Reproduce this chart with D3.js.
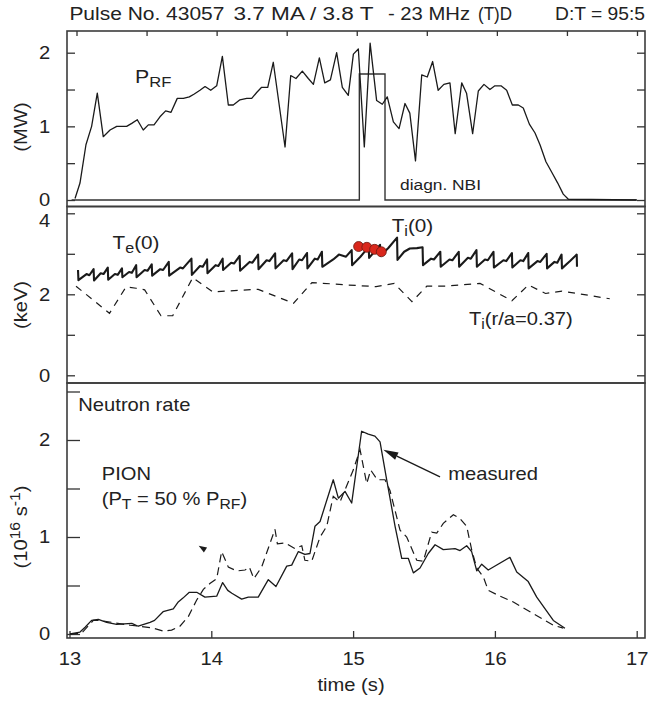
<!DOCTYPE html>
<html>
<head>
<meta charset="utf-8">
<script src="https://cdn.jsdelivr.net/npm/d3@7"></script>
<style>
body { margin: 0; background: #fff; }
text { font-family: "Liberation Sans", Arial, Helvetica, sans-serif; fill: #222; }
</style>
</head>
<body>
<script>
// ---- data (time in s) ----
// P_RF (MW)
let prfData = [[13.039,0.02],[13.074,0.23],[13.116,0.75],[13.156,1.0],[13.196,1.45],[13.238,0.86],[13.286,0.95],
  [13.333,1.0],[13.403,1.0],[13.439,1.04],[13.478,1.09],[13.52,0.95],[13.556,1.02],[13.596,1.02],[13.638,1.13],
  [13.678,1.21],[13.716,1.19],[13.76,1.38],[13.803,1.38],[13.845,1.40],[13.88,1.44],[13.92,1.49],[13.956,1.54],
  [13.996,1.49],[14.038,1.55],[14.078,1.95],[14.12,1.29],[14.155,1.29],[14.202,1.36],[14.25,1.38],[14.285,1.38],
  [14.32,1.46],[14.355,1.53],[14.398,1.53],[14.437,1.87],[14.52,0.72],[14.56,1.69],[14.597,1.65],[14.642,1.75],
  [14.684,1.65],[14.72,1.57],[14.762,1.93],[14.80,1.59],[14.84,1.63],[14.884,2.0],[14.924,1.53],[14.966,1.42],
  [15.002,1.98],[15.037,2.05],[15.079,0.72],[15.12,2.13],[15.166,1.35],[15.206,1.30],[15.241,1.40],[15.284,1.06],
  [15.324,0.97],[15.366,1.31],[15.40,1.18],[15.44,0.53],[15.484,1.70],[15.523,1.67],[15.561,1.88],[15.60,1.49],
  [15.64,1.57],[15.683,1.59],[15.72,0.90],[15.766,1.59],[15.80,1.45],[15.843,0.90],[15.883,1.48],[15.923,1.57],
  [15.965,1.50],[16.0,1.55],[16.043,1.55],[16.083,1.49],[16.123,1.29],[16.165,1.29],[16.20,1.25],[16.243,1.03],
  [16.283,0.91],[16.318,0.75],[16.36,0.52],[16.40,0.38],[16.443,0.23],[16.482,0.08],[16.518,0.01],[17.0,0.0]];
// diagnostic NBI (MW)
let nbiData = [[13.015,0],[15.044,0],[15.044,1.71],[15.225,1.71],[15.225,0],[17.0,0]];

// T_e(0) sawtooth (keV)
let teData = [[13.06,2.60],[13.063,2.35],
  [13.12,2.50],[13.14,2.47],[13.17,2.62],[13.173,2.34],[13.22,2.52],[13.24,2.50],[13.27,2.66],[13.273,2.36],
  [13.32,2.50],[13.34,2.48],[13.37,2.64],[13.373,2.42],[13.42,2.55],[13.44,2.53],[13.47,2.72],[13.473,2.42],
  [13.53,2.60],[13.55,2.58],[13.58,2.74],[13.583,2.46],[13.64,2.62],[13.66,2.60],[13.70,2.80],[13.703,2.46],
  [13.78,2.66],[13.80,2.64],[13.86,2.88],[13.863,2.48],[13.92,2.70],[13.94,2.68],[13.97,2.86],[13.973,2.52],
  [14.03,2.72],[14.05,2.70],[14.08,2.88],[14.083,2.60],[14.14,2.78],[14.16,2.76],[14.20,2.95],[14.203,2.58],
  [14.27,2.80],[14.29,2.78],[14.33,2.98],[14.333,2.62],[14.39,2.84],[14.41,2.82],[14.45,3.01],[14.453,2.64],
  [14.51,2.84],[14.53,2.82],[14.57,3.01],[14.573,2.62],[14.62,2.86],[14.64,2.84],[14.675,3.02],[14.678,2.64],
  [14.73,2.88],[14.75,2.86],[14.78,3.05],[14.783,2.68],[14.86,2.86],[14.90,2.98],[14.95,2.93],
  [14.99,3.09],[14.993,2.72],[15.05,2.92],[15.11,3.17],[15.113,2.90],[15.15,3.05],
  [15.19,3.22],[15.193,2.95],[15.25,3.15],[15.31,3.40],[15.313,2.85],[15.36,3.05],
  [15.40,3.13],[15.45,3.14],[15.49,3.16],[15.493,2.72],[15.55,2.88],[15.57,2.86],[15.615,3.05],
  [15.618,2.68],[15.68,2.86],[15.70,2.84],[15.745,3.05],[15.748,2.68],[15.81,2.90],[15.83,2.88],[15.87,3.09],
  [15.873,2.68],[15.93,2.86],[15.95,2.84],[15.99,3.05],[15.993,2.66],[16.06,2.84],[16.08,2.82],[16.12,3.02],
  [16.123,2.66],[16.18,2.84],[16.20,2.82],[16.235,3.02],[16.238,2.64],[16.30,2.82],[16.32,2.80],[16.365,3.00],
  [16.368,2.64],[16.42,2.80],[16.44,2.78],[16.47,2.98],[16.473,2.64],[16.53,2.82],[16.577,2.98],[16.579,2.68]];
// T_i(0) CXRS points (keV)
let tiCentre = [[15.039,3.18],[15.097,3.16],[15.152,3.11],[15.199,3.05]];
// T_i(r/a=0.37) (keV)
let tiMid = [[13.046,2.20],[13.282,1.53],[13.398,2.18],[13.47,2.15],[13.53,2.11],[13.645,1.47],[13.728,1.47],
  [13.869,2.41],[14.01,2.06],[14.30,2.12],[14.331,2.12],[14.58,1.78],[14.71,2.29],[14.96,2.23],[15.162,2.19],
  [15.29,2.27],[15.415,1.82],[15.52,2.20],[15.65,2.20],[15.895,2.27],[16.12,1.84],[16.236,2.23],[16.357,2.02],
  [16.473,2.08],[16.81,1.89]];

// neutron rate (1e16 /s)
let measured = [[13.004,0.0],[13.074,0.02],[13.11,0.07],[13.156,0.14],[13.203,0.15],[13.262,0.12],[13.333,0.10],
  [13.439,0.11],[13.485,0.08],[13.568,0.12],[13.60,0.14],[13.66,0.23],[13.732,0.26],[13.767,0.33],[13.80,0.37],
  [13.845,0.43],[13.897,0.43],[13.955,0.38],[14.038,0.39],[14.08,0.53],[14.116,0.45],[14.145,0.42],[14.214,0.36],
  [14.261,0.38],[14.331,0.38],[14.402,0.56],[14.456,0.49],[14.532,0.70],[14.567,0.71],[14.614,0.85],[14.66,0.82],
  [14.696,0.83],[14.731,1.11],[14.767,1.16],[14.86,1.59],[14.896,1.40],[14.943,1.47],[14.99,1.35],[15.06,2.09],
  [15.107,2.06],[15.154,2.04],[15.19,1.98],[15.237,1.59],[15.296,1.11],[15.343,0.78],[15.389,0.78],[15.425,0.63],
  [15.472,0.68],[15.53,0.83],[15.578,0.92],[15.636,0.87],[15.719,0.88],[15.754,0.86],[15.801,0.91],[15.836,0.85],
  [15.872,0.65],[15.907,0.72],[15.953,0.66],[16.106,0.79],[16.154,0.64],[16.235,0.54],[16.295,0.38],[16.412,0.14],
  [16.494,0.06]];
let pion = [[13.004,0.0],[13.086,0.01],[13.168,0.14],[13.215,0.14],[13.427,0.09],[13.497,0.08],[13.59,0.06],
  [13.66,0.03],[13.72,0.04],[13.779,0.08],[13.838,0.18],[13.897,0.35],[13.944,0.46],[13.99,0.52],[14.038,0.57],
  [14.073,0.85],[14.12,0.69],[14.179,0.65],[14.238,0.66],[14.268,0.69],[14.30,0.57],[14.355,0.69],[14.449,1.08],
  [14.466,0.93],[14.52,0.94],[14.59,0.88],[14.638,0.91],[14.66,0.76],[14.708,0.75],[14.767,1.00],[14.814,1.11],
  [14.86,1.42],[14.907,1.36],[15.001,1.69],[15.049,1.90],[15.096,1.55],[15.124,1.69],[15.171,1.59],[15.225,1.59],
  [15.26,1.48],[15.331,1.07],[15.378,1.00],[15.449,0.76],[15.495,0.75],[15.554,1.05],[15.59,1.04],[15.636,1.14],
  [15.707,1.23],[15.754,1.19],[15.801,1.11],[15.836,0.87],[15.872,0.68],[15.918,0.59],[15.953,0.45],[16.036,0.39],
  [16.13,0.33],[16.271,0.21],[16.412,0.09],[16.482,0.06]];

// axis ticks
let timeTicks = [13, 14, 15, 16, 17];
let timeMinor = [13, 13.5, 14, 14.5, 15, 15.5, 16, 16.5, 17];
let prfTicks = [0, 0.5, 1, 1.5, 2];
let tempTicks = [0, 1, 2, 3, 4];
let neutTicks = [0, 0.5, 1, 1.5, 2, 2.5];

// title pieces
let titleParts = ['Pulse No. 43057', '3.7 MA / 3.8 T', '- 23 MHz', '(T)D', 'D:T = 95:5'];

// annotation arrows (time, value)
let arrowFrom = [15.613, 1.62], arrowTo = [15.213, 1.90];
let stubTail = [13.966, 0.86], stubTip = [13.911, 0.91];

// ---- layout ----
const W = 648, H = 701;
const X0 = 67, X1 = 645;
const TOP = [31, 206.5], MID = [206.5, 383], BOT = [383, 638];
const SX = 1.12;      // glyphs in the figure are a bit wider than Arial
const INK = '#1a1a1a', FRAME = '#3c3c3c';

let svg = d3.select('body').append('svg')
    .attr('width', W)
    .attr('height', H);

let x = d3.scaleLinear().domain([13, 17]).range([69.5, 636.7]);
let xTop = d3.scaleLinear().domain([13, 17]).range([76.5, 637]);   // top panel was pasted slightly offset
let yP = d3.scaleLinear().domain([0, 2]).range([200, 52.7]);
let yT = d3.scaleLinear().domain([0, 4]).range([375.3, 213.3]);
let yN = d3.scaleLinear().domain([0, 2]).range([634, 440]);

function label(sel, px, py, parts, fs = 18, rot = 0, anchor = 'start') {
    let t = sel.append('text')
        .attr('transform', `translate(${px},${py}) rotate(${rot}) scale(${SX},1)`)
        .attr('font-size', fs)
        .attr('text-anchor', anchor);
    let shift = 0;
    parts.forEach(([s, k]) => {
        let want = k === 'sub' ? 4 : k === 'sup' ? -7 : 0;
        t.append('tspan')
            .attr('dy', want - shift)
            .attr('font-size', k ? fs * 0.78 : fs)
            .text(s);
        shift = want;
    });
    return t;
}

function styleAxis(g, withText) {
    g.select('.domain').remove();
    g.selectAll('line').attr('stroke', '#333').attr('stroke-width', 1.3);
    g.selectAll('text')
        .attr('font-size', 18)
        .attr('fill', '#222')
        .attr('transform', withText ? `scale(${SX},1)` : null);
}

// frames
[TOP, MID, BOT].forEach(p => {
    svg.append('rect')
        .attr('x', X0).attr('y', p[0])
        .attr('width', X1 - X0).attr('height', p[1] - p[0])
        .attr('fill', 'none')
        .attr('stroke', FRAME)
        .attr('stroke-width', 1.6);
});

let onlyInt = d => Number.isInteger(d) ? d : '';
let evenInt = d => d % 2 === 0 ? d : '';

// top panel axes
svg.append('g').attr('transform', `translate(${X0},0)`)
    .call(d3.axisLeft(yP).tickValues(prfTicks).tickSize(-8).tickPadding(15).tickFormat(onlyInt))
    .call(g => styleAxis(g, true));
svg.append('g').attr('transform', `translate(${X1},0)`)
    .call(d3.axisRight(yP).tickValues(prfTicks).tickSize(-8).tickFormat(''))
    .call(g => styleAxis(g, false));
svg.append('g').attr('transform', `translate(0,${TOP[0]})`)
    .call(d3.axisTop(xTop).tickValues(timeMinor).tickSize(-5).tickFormat(''))
    .call(g => styleAxis(g, false));

// middle panel axes
svg.append('g').attr('transform', `translate(${X0},0)`)
    .call(d3.axisLeft(yT).tickValues(tempTicks).tickSize(-8).tickPadding(15).tickFormat(evenInt))
    .call(g => styleAxis(g, true))
    .call(g => g.selectAll('.tick text').filter(d => d === 4).attr('dy', '0.75em'));  // "4" sits below its tick
svg.append('g').attr('transform', `translate(${X1},0)`)
    .call(d3.axisRight(yT).tickValues(tempTicks).tickSize(-8).tickFormat(''))
    .call(g => styleAxis(g, false));

// bottom panel axes
svg.append('g').attr('transform', `translate(${X0},0)`)
    .call(d3.axisLeft(yN).tickValues(neutTicks).tickSize(-13).tickPadding(15).tickFormat(onlyInt))
    .call(g => styleAxis(g, true));
svg.append('g').attr('transform', `translate(0,${BOT[1]})`)
    .call(d3.axisBottom(x).tickValues(timeTicks).tickSize(-7).tickPadding(14).tickFormat(d3.format('d')))
    .call(g => styleAxis(g, true));

// lines
let lineP = d3.line().x(d => x(d[0])).y(d => yP(d[1]));
let lineT = d3.line().x(d => x(d[0])).y(d => yT(d[1]));
let lineN = d3.line().x(d => x(d[0])).y(d => yN(d[1]));

svg.append('path').datum(nbiData).attr('d', lineP)
    .attr('fill', 'none').attr('stroke', '#333').attr('stroke-width', 1.4);
svg.append('path').datum(prfData).attr('d', lineP)
    .attr('fill', 'none').attr('stroke', INK).attr('stroke-width', 1.3).attr('stroke-linejoin', 'round');

svg.append('path').datum(tiMid).attr('d', lineT)
    .attr('fill', 'none').attr('stroke', INK).attr('stroke-width', 1.2)
    .attr('stroke-dasharray', '7,6');
svg.append('path').datum(teData).attr('d', lineT)
    .attr('fill', 'none').attr('stroke', INK).attr('stroke-width', 2.1).attr('stroke-linejoin', 'round');
svg.selectAll('circle.ti').data(tiCentre).enter().append('circle')
    .attr('class', 'ti')
    .attr('cx', d => x(d[0]))
    .attr('cy', d => yT(d[1]))
    .attr('r', 5)
    .attr('fill', '#d9271c')
    .attr('stroke', '#6b1a12')
    .attr('stroke-width', 0.8);

svg.append('path').datum(pion).attr('d', lineN)
    .attr('fill', 'none').attr('stroke', INK).attr('stroke-width', 1.2)
    .attr('stroke-dasharray', '8,5');
svg.append('path').datum(measured).attr('d', lineN)
    .attr('fill', 'none').attr('stroke', INK).attr('stroke-width', 1.3).attr('stroke-linejoin', 'round');

// arrow heads
function head(from, to, len, wid, shaft) {
    let fx = x(from[0]), fy = yN(from[1]), tx = x(to[0]), ty = yN(to[1]);
    let a = Math.atan2(ty - fy, tx - fx);
    let bx = tx - len * Math.cos(a), by = ty - len * Math.sin(a);
    let nx = -Math.sin(a) * wid / 2, ny = Math.cos(a) * wid / 2;
    if (shaft) {
        svg.append('line')
            .attr('x1', fx).attr('y1', fy).attr('x2', bx).attr('y2', by)
            .attr('stroke', INK).attr('stroke-width', 1.3);
    }
    svg.append('path')
        .attr('d', `M${tx},${ty}L${bx + nx},${by + ny}L${bx - nx},${by - ny}Z`)
        .attr('fill', INK);
}
head(arrowFrom, arrowTo, 15, 8, true);
head(stubTail, stubTip, 8, 6, false);

// title: pieces fitted to the spans they take in the figure
let titleX = [69.4, 233.5, 388, 478, 555];
let titleW = [155, 140, 82, 34, 90];
svg.selectAll('text.title').data(titleParts).enter().append('text')
    .attr('class', 'title')
    .attr('x', (d, i) => titleX[i])
    .attr('y', 20)
    .attr('font-size', 17.5)
    .attr('textLength', (d, i) => titleW[i])
    .attr('lengthAdjust', 'spacingAndGlyphs')
    .text(d => d);

label(svg, 135, 83.3, [['P', ''], ['RF', 'sub']], 19);
label(svg, 400, 190, [['diagn. NBI', '']], 15.5);
label(svg, 112.5, 249, [['T', ''], ['e', 'sub'], ['(0)', '']], 18.5);
label(svg, 391.7, 231.5, [['T', ''], ['i', 'sub'], ['(0)', '']], 18.5);
label(svg, 469, 325, [['T', ''], ['i', 'sub'], ['(r/a=0.37)', '']], 18);
label(svg, 78.3, 410.7, [['Neutron rate', '']], 18);
label(svg, 101.7, 480, [['PION', '']], 18);
label(svg, 101.7, 505, [['(P', ''], ['T', 'sub'], [' = 50 % P', ''], ['RF', 'sub'], [')', '']], 18);
label(svg, 448.3, 480, [['measured', '']], 18);
label(svg, 351, 691, [['time (s)', '']], 18, 0, 'middle');

label(svg, 27, 127, [['(MW)', '']], 18, -90, 'middle');
label(svg, 27, 305, [['(keV)', '']], 18, -90, 'middle');
label(svg, 27, 527, [['(10', ''], ['16', 'sup'], [' s', ''], ['-1', 'sup'], [')', '']], 18, -90, 'middle');
</script>
</body>
</html>
